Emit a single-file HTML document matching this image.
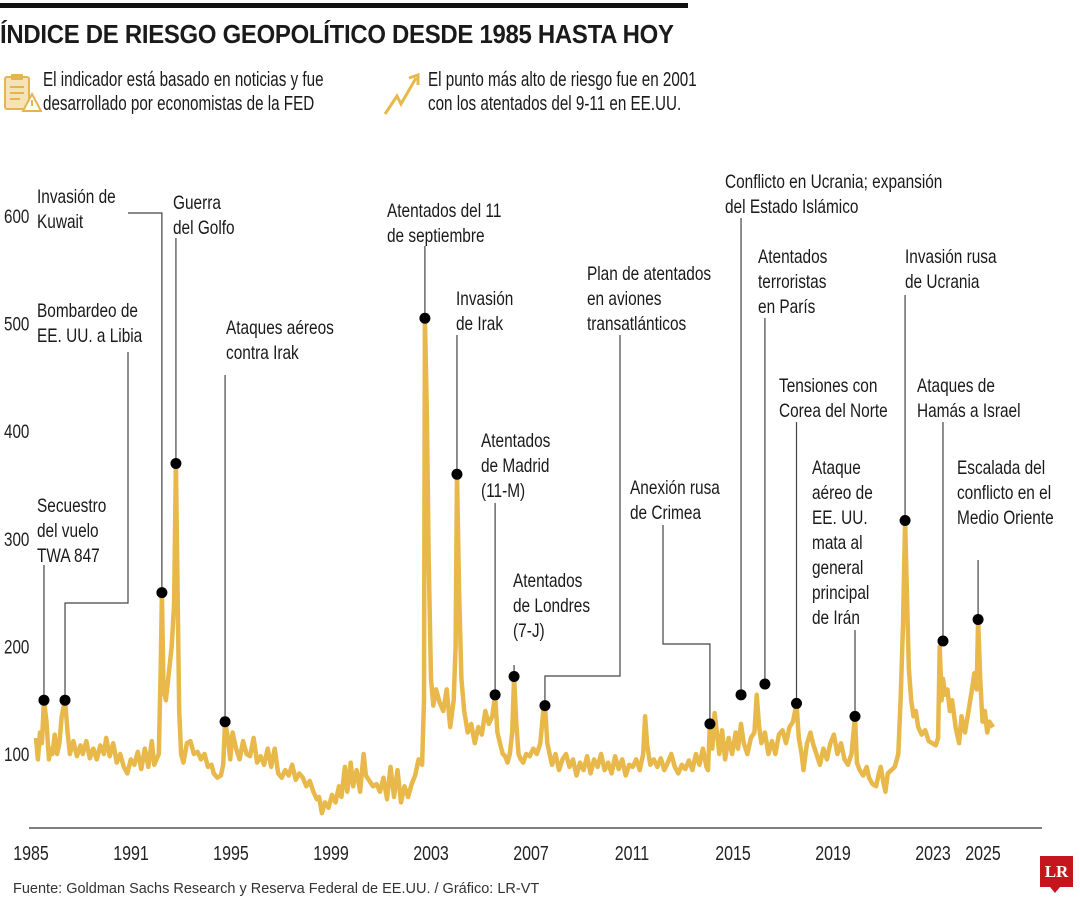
<!DOCTYPE html>
<html><head><meta charset="utf-8">
<style>
html,body{margin:0;padding:0;background:#fff;}
body{width:1080px;height:900px;position:relative;overflow:hidden;font-family:"Liberation Sans",sans-serif;color:#1a1a1a;}
.t{position:absolute;white-space:nowrap;transform-origin:0 0;}
</style></head>
<body>
<div style="position:absolute;left:0;top:3px;width:688px;height:5px;background:#111"></div>
<div class="t" style="left:0;top:19px;font-size:26px;font-weight:bold;letter-spacing:-0.3px;transform:scaleX(0.92)">ÍNDICE DE RIESGO GEOPOLÍTICO DESDE 1985 HASTA HOY</div>
<svg style="position:absolute;left:2px;top:72px" width="40" height="42" viewBox="0 0 40 42">
<rect x="3" y="5" width="24" height="32" rx="2" fill="#f6e3b5" stroke="#e3b451" stroke-width="2"/>
<rect x="9" y="2" width="12" height="6" rx="1" fill="#e3b451"/>
<path d="M8 15h14M8 21h14M8 27h10" stroke="#e3b451" stroke-width="2"/>
<path d="M30 22 L39 39 L21 39 Z" fill="#fff" stroke="#e3b451" stroke-width="2"/>
<path d="M30 28v6" stroke="#e3b451" stroke-width="2"/>
</svg>
<div class="t" style="left:43px;top:68px;font-size:20px;line-height:24px;transform:scaleX(0.76)">El indicador está basado en noticias y fue<br>desarrollado por economistas de la FED</div>
<svg style="position:absolute;left:382px;top:72px" width="40" height="44" viewBox="0 0 40 44">
<path d="M3 42 L15 24 L19 32 L34 6" fill="none" stroke="#e8b84b" stroke-width="3"/>
<path d="M27 6 L36 3 L36 13" fill="none" stroke="#e8b84b" stroke-width="3"/>
</svg>
<div class="t" style="left:428px;top:68px;font-size:20px;line-height:24px;transform:scaleX(0.76)">El punto más alto de riesgo fue en 2001<br>con los atentados del 9-11 en EE.UU.</div>

<svg id="chart" style="position:absolute;left:0;top:0" width="1080" height="900"></svg>

<div class="t" style="left:13px;top:881px;font-size:14.5px;color:#333">Fuente: Goldman Sachs Research y Reserva Federal de EE.UU. / Gráfico: LR-VT</div>
<div style="position:absolute;left:1040px;top:856px;width:33px;height:31px;background:#c4161c;color:#fff;font:bold 17px 'Liberation Serif',serif;text-align:center;line-height:31px">LR</div>
<div style="position:absolute;left:1050px;top:887px;width:0;height:0;border-left:5px solid transparent;border-right:5px solid transparent;border-top:6px solid #c4161c"></div>

<script>
const years=[1985.0,1985.08,1985.17,1985.25,1985.34,1985.45,1985.55,1985.62,1985.7,1985.8,1985.9,1986.0,1986.1,1986.24,1986.35,1986.45,1986.6,1986.75,1986.9,1987.0,1987.15,1987.3,1987.45,1987.6,1987.75,1987.9,1988.0,1988.15,1988.3,1988.45,1988.6,1988.75,1988.9,1989.05,1989.2,1989.35,1989.5,1989.65,1989.8,1989.95,1990.05,1990.15,1990.25,1990.33,1990.38,1990.45,1990.55,1990.65,1990.8,1990.9,1990.98,1991.05,1991.12,1991.2,1991.3,1991.45,1991.6,1991.75,1991.9,1992.05,1992.2,1992.35,1992.5,1992.6,1992.75,1992.9,1993.0,1993.08,1993.2,1993.3,1993.4,1993.55,1993.7,1993.85,1994.0,1994.15,1994.3,1994.45,1994.6,1994.75,1994.9,1995.05,1995.2,1995.35,1995.5,1995.65,1995.8,1995.95,1996.1,1996.25,1996.4,1996.55,1996.7,1996.85,1997.0,1997.1,1997.22,1997.35,1997.5,1997.65,1997.8,1997.95,1998.05,1998.2,1998.3,1998.45,1998.55,1998.7,1998.85,1999.0,1999.1,1999.25,1999.4,1999.55,1999.7,1999.85,2000.0,2000.15,2000.3,2000.45,2000.6,2000.75,2000.9,2001.05,2001.2,2001.35,2001.5,2001.58,2001.62,2001.7,2001.78,2001.88,2001.98,2002.1,2002.25,2002.4,2002.55,2002.7,2002.85,2002.93,2002.99,2003.08,2003.18,2003.3,2003.45,2003.6,2003.75,2003.9,2004.05,2004.2,2004.35,2004.5,2004.62,2004.72,2004.85,2004.95,2005.05,2005.15,2005.25,2005.35,2005.43,2005.52,2005.62,2005.72,2005.82,2005.95,2006.1,2006.25,2006.4,2006.55,2006.68,2006.75,2006.85,2006.95,2007.05,2007.2,2007.35,2007.5,2007.65,2007.8,2007.95,2008.1,2008.25,2008.4,2008.55,2008.7,2008.85,2009.0,2009.15,2009.3,2009.45,2009.6,2009.75,2009.9,2010.05,2010.2,2010.35,2010.5,2010.65,2010.8,2010.95,2011.03,2011.12,2011.25,2011.4,2011.55,2011.7,2011.85,2012.0,2012.15,2012.3,2012.45,2012.6,2012.75,2012.9,2013.05,2013.2,2013.35,2013.5,2013.65,2013.72,2013.8,2013.9,2014.0,2014.1,2014.2,2014.32,2014.45,2014.6,2014.75,2014.9,2015.0,2015.13,2015.25,2015.4,2015.55,2015.7,2015.8,2015.9,2016.0,2016.15,2016.3,2016.45,2016.6,2016.75,2016.9,2017.05,2017.2,2017.35,2017.5,2017.6,2017.72,2017.8,2017.95,2018.1,2018.2,2018.35,2018.5,2018.65,2018.8,2018.95,2019.1,2019.25,2019.4,2019.55,2019.7,2019.85,2020.0,2020.08,2020.2,2020.35,2020.5,2020.6,2020.75,2020.9,2021.0,2021.1,2021.2,2021.3,2021.4,2021.55,2021.7,2021.85,2021.95,2022.05,2022.14,2022.22,2022.3,2022.4,2022.5,2022.6,2022.7,2022.85,2023.0,2023.15,2023.3,2023.45,2023.55,2023.62,2023.7,2023.76,2023.85,2023.95,2024.05,2024.15,2024.3,2024.45,2024.55,2024.7,2024.85,2025.0,2025.1,2025.2,2025.26,2025.35,2025.45,2025.55,2025.65,2025.75,2025.9];
const values=[115,95,120,110,150,130,95,105,100,118,100,110,135,150,120,100,112,98,108,100,112,96,105,95,108,100,115,98,110,92,100,88,82,95,90,102,86,105,88,112,90,95,100,180,250,160,150,170,200,240,370,250,140,100,92,110,112,100,102,95,100,88,90,82,78,80,90,130,115,95,120,105,95,112,100,98,115,92,98,90,105,88,105,82,78,85,80,90,76,82,78,70,75,65,58,60,45,55,50,62,55,70,60,88,65,92,70,85,65,100,80,75,70,72,65,78,58,88,60,85,55,70,60,72,80,95,90,150,505,420,280,170,145,160,148,140,160,125,150,200,360,250,170,140,120,128,110,125,118,140,128,135,155,120,108,100,98,92,100,120,172,130,100,95,92,100,98,105,100,110,140,145,110,100,90,100,85,95,100,88,95,80,92,85,98,82,95,88,100,85,92,82,98,86,95,80,90,88,95,85,100,135,108,90,95,88,96,85,92,100,88,82,90,86,94,85,100,90,105,88,85,128,105,138,120,100,122,95,115,100,120,105,128,110,100,115,120,155,125,110,120,100,112,100,118,122,110,125,130,147,115,100,85,110,120,110,100,90,105,95,110,118,100,110,95,90,100,135,92,85,80,88,78,72,70,80,88,75,65,82,85,88,100,150,220,317,250,180,150,135,140,125,118,122,112,110,108,115,200,150,170,155,160,140,150,125,110,135,120,140,160,175,160,225,170,130,140,120,130,125];
const yTicks=[100,200,300,400,500,600];
const xTickLabels=["1985","1991","1995","1999","2003","2007","2011","2015","2019","2023","2025"];
const xTickPos=[31,131,231,331,431,531,632,733,833,933,983];
const annYears=[1985.34,1986.24,1990.38,1990.98,1993.08,2001.62,2002.99,2004.62,2005.43,2006.75,2013.8,2015.13,2016.15,2017.5,2020.0,2022.14,2023.76,2025.26];
const annValues=[150,150,250,370,130,505,360,155,172,145,128,155,165,147,135,317,205,225];
const annTexts=[["Secuestro","del vuelo","TWA 847"],["Bombardeo de","EE. UU. a Libia"],["Invasión de","Kuwait"],["Guerra","del Golfo"],["Ataques aéreos","contra Irak"],["Atentados del 11","de septiembre"],["Invasión","de Irak"],["Atentados","de Madrid","(11-M)"],["Atentados","de Londres","(7-J)"],["Plan de atentados","en aviones","transatlánticos"],["Anexión rusa","de Crimea"],["Conflicto en Ucrania; expansión","del Estado Islámico"],["Atentados","terroristas","en París"],["Tensiones con","Corea del Norte"],["Ataque","aéreo de","EE. UU.","mata al","general","principal","de Irán"],["Invasión rusa","de Ucrania"],["Ataques de","Hamás a Israel"],["Escalada del","conflicto en el","Medio Oriente"]];
const annLayout=[[37,505,565,null],[37,310,352,[128,603]],[37,196,213,[128,213]],[173,202,238,null],[226,327,375,null],[387,210,246,null],[456,298,335,null],[481,440,503,null],[513,580,665,null],[587,273,335,[620,676]],[630,487,525,[663,644]],[725,181,218,null],[758,256,318,null],[779,385,422,null],[812,467,630,null],[905,256,295,null],[917,385,422,null],[957,467,560,null]];

const X0=36,PXY=23.4;
const xs=y=>X0+(y-1985)*PXY;
const ys=v=>754-(v-100)*1.076;
const NS="http://www.w3.org/2000/svg";
const svg=document.getElementById('chart');
function mk(tag,attrs,parent){const e=document.createElementNS(NS,tag);for(const k in attrs)e.setAttribute(k,attrs[k]);(parent||svg).appendChild(e);return e;}
const FF='"Liberation Sans",sans-serif';
function sq(x,s){return `translate(${x},0) scale(${s},1) translate(${-x},0)`;}

yTicks.forEach(v=>{
  const t=mk('text',{x:4,y:ys(v)+7,'font-size':19.5,'font-family':FF,fill:'#222',transform:sq(4,0.78)});
  
  
  t.textContent=v;
});
const ax=mk('line',{x1:29,y1:828,x2:1042,y2:828,stroke:'#333','stroke-width':1.3});


xTickLabels.forEach((l,i)=>{
  const t=mk('text',{x:xTickPos[i],y:860,'font-size':20,'font-family':FF,fill:'#222','text-anchor':'middle',transform:sq(xTickPos[i],0.8)});
  
  
  t.textContent=l;
});

annYears.forEach((yr,i)=>{
  const L=annLayout[i];const px=xs(yr),py=ys(annValues[i]);
  let d;
  if(L[3]){
    const ex=L[3][0],ey=L[3][1];
    if(i===2) d=`M${ex} ${L[2]} H${px} V${py}`;
    else d=`M${ex} ${L[2]} V${ey} H${px} V${py}`;
  } else d=`M${px} ${L[2]} V${py}`;
  const p=mk('path',{d:d,fill:'none',stroke:'#444','stroke-width':1.2});
  
  
});

let d='';
years.forEach((y,i)=>{d+=(i?'L':'M')+xs(y).toFixed(1)+' '+ys(values[i]).toFixed(1);});
const line=mk('path',{d:d,fill:'none',stroke:'#e8b84b','stroke-width':4.5,'stroke-linejoin':'round'});



annYears.forEach((yr,i)=>{
  const c=mk('circle',{cx:xs(yr),cy:ys(annValues[i]),r:5.5,fill:'#000'});
  
  
  const L=annLayout[i];
  annTexts[i].forEach((s,j)=>{
    const t=mk('text',{x:L[0],y:L[1]+7,'font-size':19.5,'font-family':FF,fill:'#1a1a1a',transform:sq(L[0],0.79)});
    t.setAttribute('y',L[1]+7+j*25);
    
    
    t.textContent=s;
  });
});
</script>
</body></html>
